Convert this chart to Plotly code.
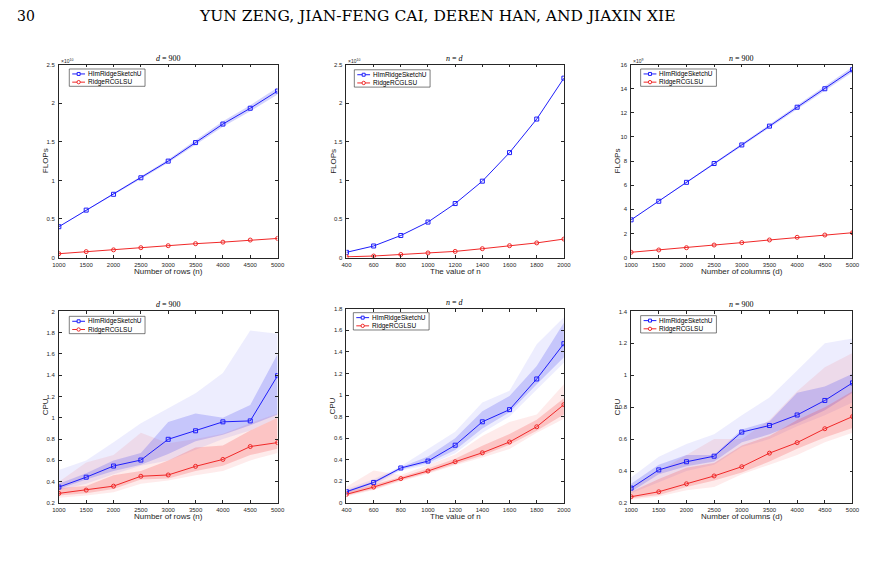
import plotly.graph_objects as go

# ---------------- data ----------------
rows_n = [1000, 1500, 2000, 2500, 3000, 3500, 4000, 4500, 5000]
val_n = [400, 600, 800, 1000, 1200, 1400, 1600, 1800, 2000]
cols_d = [1000, 1500, 2000, 2500, 3000, 3500, 4000, 4500, 5000]

# FLOPs (scaled: panel1/2 in 1e10, panel3 in 1e9)
flops1_blue = [0.40, 0.615, 0.82, 1.034, 1.25, 1.49, 1.73, 1.935, 2.158]
flops1_red = [0.05, 0.077, 0.10, 0.128, 0.154, 0.18, 0.20, 0.227, 0.248]
flops2_blue = [0.068, 0.15, 0.286, 0.46, 0.70, 0.99, 1.36, 1.795, 2.325]
flops2_red = [0.01, 0.02, 0.04, 0.06, 0.08, 0.115, 0.154, 0.19, 0.24]
flops3_blue = [3.13, 4.67, 6.24, 7.8, 9.34, 10.9, 12.47, 14.0, 15.58]
flops3_red = [0.44, 0.63, 0.82, 1.04, 1.24, 1.46, 1.68, 1.87, 2.06]

# CPU panel 4 (d = 900)
cpu4_blue = [0.349, 0.442, 0.547, 0.603, 0.798, 0.878, 0.962, 0.971, 1.396]
cpu4_red = [0.29, 0.321, 0.358, 0.451, 0.463, 0.544, 0.609, 0.73, 0.767]
cpu4_blue_out_hi = [0.51, 0.60, 0.77, 0.95, 1.09, 1.23, 1.42, 1.82, 1.79]
cpu4_blue_out_lo = [0.32, 0.38, 0.47, 0.55, 0.60, 0.70, 0.80, 0.88, 1.00]
cpu4_blue_in_hi = [0.38, 0.48, 0.60, 0.67, 0.96, 1.04, 1.00, 1.12, 1.60]
cpu4_blue_in_lo = [0.33, 0.42, 0.50, 0.56, 0.66, 0.78, 0.84, 0.93, 1.03]
cpu4_red_out_hi = [0.40, 0.58, 0.65, 0.86, 0.76, 0.80, 0.85, 0.95, 1.04]
cpu4_red_out_lo = [0.25, 0.27, 0.30, 0.38, 0.41, 0.46, 0.50, 0.60, 0.67]
cpu4_red_in_hi = [0.34, 0.36, 0.46, 0.50, 0.60, 0.72, 0.74, 0.88, 1.00]
cpu4_red_in_lo = [0.27, 0.29, 0.33, 0.42, 0.43, 0.50, 0.55, 0.65, 0.71]

# CPU panel 5 (n = d)
cpu5_blue = [0.104, 0.19, 0.324, 0.388, 0.535, 0.752, 0.865, 1.149, 1.476]
cpu5_red = [0.08, 0.147, 0.226, 0.296, 0.382, 0.465, 0.565, 0.706, 0.911]
cpu5_blue_out_hi = [0.13, 0.22, 0.34, 0.50, 0.66, 0.93, 1.04, 1.47, 1.72]
cpu5_blue_out_lo = [0.08, 0.16, 0.30, 0.35, 0.46, 0.65, 0.80, 1.05, 1.30]
cpu5_blue_in_hi = [0.115, 0.20, 0.33, 0.43, 0.60, 0.85, 0.99, 1.27, 1.67]
cpu5_blue_in_lo = [0.095, 0.18, 0.31, 0.37, 0.49, 0.69, 0.84, 1.10, 1.35]
cpu5_red_out_hi = [0.15, 0.30, 0.26, 0.35, 0.45, 0.62, 0.75, 0.82, 1.10]
cpu5_red_out_lo = [0.06, 0.12, 0.20, 0.27, 0.35, 0.42, 0.50, 0.65, 0.78]
cpu5_red_in_hi = [0.10, 0.17, 0.24, 0.32, 0.41, 0.53, 0.64, 0.77, 0.97]
cpu5_red_in_lo = [0.07, 0.13, 0.21, 0.28, 0.36, 0.44, 0.54, 0.67, 0.82]

# CPU panel 6 (n = 900)
cpu6_blue = [0.293, 0.407, 0.458, 0.493, 0.644, 0.685, 0.751, 0.842, 0.952]
cpu6_red = [0.239, 0.27, 0.32, 0.369, 0.427, 0.512, 0.578, 0.665, 0.741]
cpu6_blue_out_hi = [0.36, 0.49, 0.57, 0.63, 0.75, 0.86, 1.03, 1.20, 1.23]
cpu6_blue_out_lo = [0.26, 0.33, 0.40, 0.44, 0.55, 0.60, 0.68, 0.75, 0.83]
cpu6_blue_in_hi = [0.32, 0.44, 0.50, 0.50, 0.66, 0.71, 0.89, 0.93, 1.01]
cpu6_blue_in_lo = [0.27, 0.38, 0.43, 0.46, 0.58, 0.63, 0.70, 0.78, 0.89]
cpu6_red_out_hi = [0.30, 0.40, 0.50, 0.60, 0.60, 0.72, 0.90, 1.05, 1.14]
cpu6_red_out_lo = [0.22, 0.24, 0.28, 0.30, 0.38, 0.44, 0.50, 0.58, 0.64]
cpu6_red_in_hi = [0.27, 0.35, 0.42, 0.45, 0.56, 0.62, 0.72, 0.80, 0.90]
cpu6_red_in_lo = [0.23, 0.25, 0.30, 0.34, 0.39, 0.46, 0.54, 0.61, 0.67]

# FLOPs band half-widths (small)
flops1_blue_band = [0.0, 0.005, 0.01, 0.015, 0.02, 0.03, 0.035, 0.04, 0.045]
flops3_blue_band = [0.0, 0.03, 0.05, 0.08, 0.1, 0.13, 0.16, 0.19, 0.22]

series_names = ["HImRidgeSketchU", "RidgeRCGLSU"]
titles = ["<i>d</i> = 900", "<i>n</i> = <i>d</i>", "<i>n</i> = 900",
          "<i>d</i> = 900", "<i>n</i> = <i>d</i>", "<i>n</i> = 900"]
xlabels = ["Number of rows (n)", "The value of n", "Number of columns (d)",
           "Number of rows (n)", "The value of n", "Number of columns (d)"]
ylabels = ["FLOPs", "FLOPs", "FLOPs", "CPU", "CPU", "CPU"]
exponents = ["×10<sup>10</sup>", "×10<sup>10</sup>", "×10<sup>9</sup>", None, None, None]

W, H = 871, 566
BLUE = "rgb(30,30,250)"
RED = "rgb(240,40,40)"
BLUE_OUT = "rgba(60,60,240,0.09)"
BLUE_IN = "rgba(60,60,240,0.22)"
RED_OUT = "rgba(245,60,60,0.10)"
RED_IN = "rgba(245,60,60,0.22)"
AXC = "#262626"

# pixel boxes (left, right, top, bottom)
boxes = [
    (52.7, 275.0, 62.3, 257.3),
    (345.0, 566.0, 62.3, 257.3),
    (634.3, 859.3, 62.3, 257.3),
    (52.7, 275.0, 311.7, 505.3),
    (345.0, 566.0, 309.0, 505.3),
    (634.3, 859.3, 311.7, 505.3),
]
xranges = [(1000, 5000), (400, 2000), (1000, 5000)] * 2
xticks = [rows_n, val_n, cols_d] * 2
yranges = [(0, 2.5), (0, 2.5), (0, 16), (0.2, 2.0), (0, 1.8), (0.2, 1.4)]
ydt = [0.5, 0.5, 2, 0.2, 0.2, 0.2]
legend_pos = [(63.3, 66.7), (353, 67.5), (644, 66.7), (63.3, 316.7), (352, 313), (644, 316)]
legend_w = 77
legend_h = 17.5

def fmt(v):
    s = ("%.1f" % v).rstrip("0").rstrip(".")
    return s

fig = go.Figure()

def ax(k):
    s = "" if k == 0 else str(k + 1)
    return "x" + s, "y" + s

def band(k, x, hi, lo, color):
    xa, ya = ax(k)
    fig.add_trace(go.Scatter(
        x=list(x) + list(x)[::-1], y=list(hi) + list(lo)[::-1],
        fill="toself", fillcolor=color, line=dict(width=0),
        mode="lines", showlegend=False, hoverinfo="skip", xaxis=xa, yaxis=ya))

def lines(k, x, yb, yr):
    xa, ya = ax(k)
    fig.add_trace(go.Scatter(x=x, y=yb, name=series_names[0], mode="lines+markers",
                             line=dict(color=BLUE, width=1),
                             marker=dict(symbol="square-open", size=4, color=BLUE, line=dict(width=1)),
                             xaxis=xa, yaxis=ya, showlegend=False))
    fig.add_trace(go.Scatter(x=x, y=yr, name=series_names[1], mode="lines+markers",
                             line=dict(color=RED, width=1),
                             marker=dict(symbol="circle-open", size=4, color=RED, line=dict(width=1)),
                             xaxis=xa, yaxis=ya, showlegend=False))

# panel 1
band(0, rows_n, [b + e for b, e in zip(flops1_blue, flops1_blue_band)],
     [b - e for b, e in zip(flops1_blue, flops1_blue_band)], BLUE_IN)
lines(0, rows_n, flops1_blue, flops1_red)
# panel 2
lines(1, val_n, flops2_blue, flops2_red)
# panel 3
band(2, cols_d, [b + e for b, e in zip(flops3_blue, flops3_blue_band)],
     [b - e for b, e in zip(flops3_blue, flops3_blue_band)], BLUE_IN)
lines(2, cols_d, flops3_blue, flops3_red)
# panel 4
band(3, rows_n, cpu4_blue_out_hi, cpu4_blue_out_lo, BLUE_OUT)
band(3, rows_n, cpu4_red_out_hi, cpu4_red_out_lo, RED_OUT)
band(3, rows_n, cpu4_blue_in_hi, cpu4_blue_in_lo, BLUE_IN)
band(3, rows_n, cpu4_red_in_hi, cpu4_red_in_lo, RED_IN)
lines(3, rows_n, cpu4_blue, cpu4_red)
# panel 5
band(4, val_n, cpu5_blue_out_hi, cpu5_blue_out_lo, BLUE_OUT)
band(4, val_n, cpu5_red_out_hi, cpu5_red_out_lo, RED_OUT)
band(4, val_n, cpu5_blue_in_hi, cpu5_blue_in_lo, BLUE_IN)
band(4, val_n, cpu5_red_in_hi, cpu5_red_in_lo, RED_IN)
lines(4, val_n, cpu5_blue, cpu5_red)
# panel 6
band(5, cols_d, cpu6_blue_out_hi, cpu6_blue_out_lo, BLUE_OUT)
band(5, cols_d, cpu6_red_out_hi, cpu6_red_out_lo, RED_OUT)
band(5, cols_d, cpu6_blue_in_hi, cpu6_blue_in_lo, BLUE_IN)
band(5, cols_d, cpu6_red_in_hi, cpu6_red_in_lo, RED_IN)
lines(5, cols_d, cpu6_blue, cpu6_red)

layout = dict(width=W, height=H, margin=dict(l=0, r=0, t=0, b=0),
              paper_bgcolor="white", plot_bgcolor="white",
              font=dict(family="Liberation Sans, Arial", color=AXC),
              hovermode=False, showlegend=False)
annotations = []
shapes = []

def px(x):
    return x / W

def py(y):
    return 1 - y / H

for k in range(6):
    l, r, t, b = boxes[k]
    sfx = "" if k == 0 else str(k + 1)
    y0, y1 = yranges[k]
    n = int(round((y1 - y0) / ydt[k]))
    yt = [round(y0 + i * ydt[k], 4) for i in range(n + 1)]
    layout["xaxis" + sfx] = dict(
        domain=[px(l), px(r)], range=list(xranges[k]), anchor="y" + sfx,
        tickvals=xticks[k], ticktext=[str(v) for v in xticks[k]],
        ticks="inside", ticklen=3, tickwidth=0.6, tickcolor=AXC,
        showline=True, linecolor=AXC, linewidth=0.6, mirror="ticks",
        showgrid=False, zeroline=False, tickfont=dict(size=6, color=AXC),
        ticklabelstandoff=1)
    layout["yaxis" + sfx] = dict(
        domain=[py(b), py(t)], range=[y0, y1], anchor="x" + sfx,
        tickvals=yt, ticktext=[fmt(v) for v in yt],
        ticks="inside", ticklen=3, tickwidth=0.6, tickcolor=AXC,
        showline=True, linecolor=AXC, linewidth=0.6, mirror="ticks",
        showgrid=False, zeroline=False, tickfont=dict(size=6, color=AXC),
        ticklabelstandoff=2)
    # manual legend (compact, MATLAB-like)
    lx, ly = legend_pos[k]
    shapes.append(dict(type="rect", xref="paper", yref="paper",
                       x0=px(lx), x1=px(lx + legend_w), y0=py(ly + legend_h), y1=py(ly),
                       line=dict(color=AXC, width=0.6), fillcolor="white", layer="above"))
    for i, (nm, col) in enumerate(zip(series_names, [BLUE, RED])):
        yy = ly + 5 + i * 8.3
        shapes.append(dict(type="line", xref="paper", yref="paper",
                           x0=px(lx + 3), x1=px(lx + 16), y0=py(yy), y1=py(yy),
                           line=dict(color=col, width=1), layer="above"))
        if i == 0:
            shapes.append(dict(type="rect", xref="paper", yref="paper",
                               x0=px(lx + 8), x1=px(lx + 11), y0=py(yy + 1.5), y1=py(yy - 1.5),
                               line=dict(color=col, width=1), fillcolor="white", layer="above"))
        else:
            shapes.append(dict(type="circle", xref="paper", yref="paper",
                               x0=px(lx + 7.8), x1=px(lx + 11.2), y0=py(yy + 1.7), y1=py(yy - 1.7),
                               line=dict(color=col, width=1), fillcolor="white", layer="above"))
        annotations.append(dict(x=px(lx + 17.5), y=py(yy), xref="paper", yref="paper",
                                text=nm, showarrow=False, xanchor="left", yanchor="middle",
                                font=dict(size=6.5, color="black"), borderpad=0))
    # title
    annotations.append(dict(x=px((l + r) / 2), y=py(t - 6.5), xref="paper", yref="paper",
                            text=titles[k], showarrow=False, xanchor="center", yanchor="middle",
                            font=dict(size=8, family="Liberation Serif", color="black"), borderpad=0))
    # x label
    annotations.append(dict(x=px((l + r) / 2), y=py(b + 14), xref="paper", yref="paper",
                            text=xlabels[k], showarrow=False, xanchor="center", yanchor="middle",
                            font=dict(size=8, color=AXC), borderpad=0))
    # y label
    annotations.append(dict(x=px(l - 14), y=py((t + b) / 2), xref="paper", yref="paper",
                            text=ylabels[k], showarrow=False, textangle=-90,
                            xanchor="center", yanchor="middle",
                            font=dict(size=8, color=AXC), borderpad=0))
    if exponents[k]:
        annotations.append(dict(x=px(l + 1), y=py(t - 3.5), xref="paper", yref="paper",
                                text=exponents[k], showarrow=False, xanchor="left", yanchor="middle",
                                font=dict(size=5, color=AXC), borderpad=0))

# page header
annotations.append(dict(x=px(8), y=py(13), xref="paper", yref="paper", text="30",
                        showarrow=False, xanchor="left", yanchor="middle",
                        font=dict(size=14, family="DejaVu Serif", color="black")))
annotations.append(dict(x=px(438), y=py(13), xref="paper", yref="paper",
                        text="YUN ZENG, JIAN-FENG CAI, DEREN HAN, AND JIAXIN XIE",
                        showarrow=False, xanchor="center", yanchor="middle",
                        font=dict(size=15.5, family="DejaVu Serif", color="black")))

layout["annotations"] = annotations
layout["shapes"] = shapes
fig.update_layout(**layout)
fig.write_html("out.html")
